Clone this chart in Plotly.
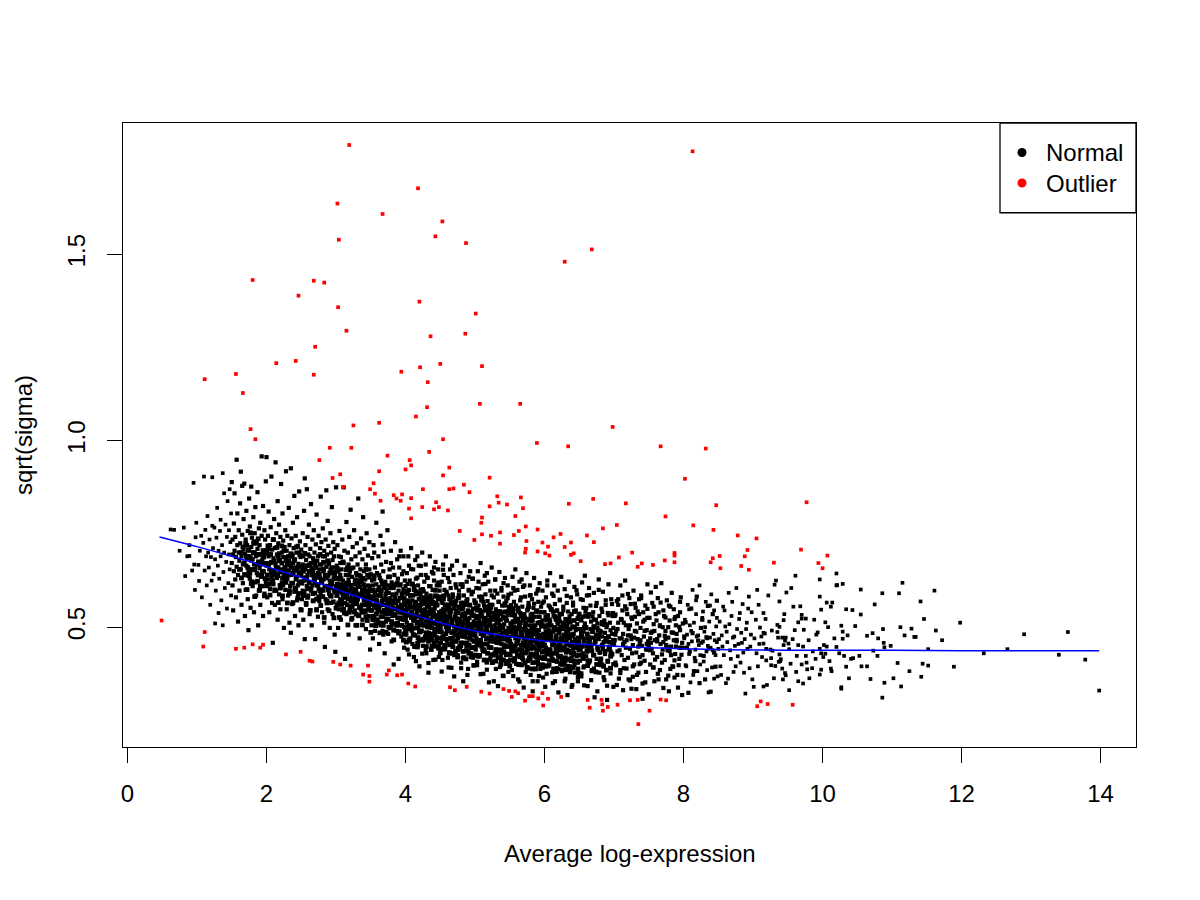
import plotly.graph_objects as go

# ---------------- data ----------------
# Trend (blue) line
trend_x = [0.46, 1.0, 1.5, 2.0, 2.5, 3.0, 3.5, 4.0, 4.5, 5.0, 5.5, 6.0, 6.5, 7.0, 7.5, 8.0, 9.0, 10.0, 11.0, 12.0, 13.0, 13.98]
trend_y = [0.742, 0.716, 0.690, 0.662, 0.633, 0.602, 0.570, 0.540, 0.512, 0.490, 0.475, 0.463, 0.455, 0.449, 0.445, 0.442, 0.439, 0.438, 0.438, 0.437, 0.437, 0.437]

# Outlier genes (red)
outlier_pts = [
 (3.19,1.793),(4.18,1.677),(3.02,1.636),(3.67,1.608),(4.53,1.588),(4.43,1.548),(3.04,1.539),(4.87,1.530),
 (1.80,1.431),(2.68,1.429),(2.83,1.424),(2.46,1.389),(3.03,1.358),(4.20,1.373),(5.01,1.341),(3.15,1.295),
 (4.86,1.287),(4.36,1.280),(2.70,1.252),(2.14,1.208),(2.42,1.214),(1.56,1.179),(1.11,1.165),(2.68,1.177),
 (3.94,1.185),(4.21,1.197),(4.50,1.206),(5.10,1.200),(4.32,1.157),(1.66,1.128),(5.07,1.099),(5.65,1.099),
 (4.31,1.090),(4.15,1.065),(1.77,1.031),(1.84,1.004),(3.25,1.041),(3.62,1.048),(4.54,1.004),(2.91,0.981),
 (3.22,0.981),(4.34,0.970),(8.13,1.776),(6.68,1.513),(6.29,1.480),(6.98,1.037),(5.89,0.994),(6.34,0.985),
 (7.67,0.985),(8.32,0.979),(3.74,0.960),(2.76,0.948),(4.06,0.948),(4.08,0.934),(4.00,0.923),(4.63,0.928),
 (3.62,0.918),(3.06,0.910),(2.95,0.900),(4.54,0.907),(3.54,0.886),(3.10,0.876),(3.49,0.870),(4.25,0.870),
 (4.63,0.870),(4.69,0.872),(3.56,0.858),(3.83,0.854),(3.95,0.856),(3.87,0.845),(3.93,0.839),(4.08,0.846),
 (3.64,0.839),(4.44,0.835),(4.24,0.822),(4.41,0.816),(4.48,0.822),(4.05,0.818),(4.61,0.813),(4.08,0.792),
 (4.78,0.758),(4.84,0.882),
 (0.49,0.518),(1.11,0.487),(1.09,0.448),(1.56,0.442),(1.68,0.445),(1.80,0.454),(1.91,0.445),(1.95,0.453),
 (2.28,0.427),(2.49,0.434),(2.62,0.410),(2.66,0.408),(2.96,0.407),(3.06,0.400),(3.21,0.397),(3.39,0.373),
 (3.48,0.369),(3.48,0.354),(3.46,0.397),(3.73,0.373),(3.76,0.384),(3.88,0.371),(3.95,0.373),(4.04,0.349),
 (4.14,0.341),(4.64,0.339),(4.71,0.331),
 (5.21,0.901),(8.02,0.898),(4.92,0.862),(5.32,0.851),(5.66,0.848),(5.34,0.834),(5.46,0.829),(5.21,0.824),
 (5.69,0.819),(6.35,0.831),(6.70,0.844),(7.17,0.832),(8.47,0.827),(5.10,0.794),(5.58,0.798),(7.74,0.797),
 (5.09,0.780),(7.04,0.774),(8.14,0.773),(5.73,0.770),(5.90,0.762),(6.84,0.765),(8.43,0.761),(5.36,0.754),
 (5.63,0.758),(5.10,0.749),(5.23,0.745),(5.56,0.747),(6.23,0.750),(6.61,0.746),(8.78,0.746),(9.05,0.738),
 (4.99,0.734),(5.74,0.731),(5.97,0.727),(6.13,0.741),(6.38,0.727),(6.71,0.728),(5.36,0.724),(6.05,0.716),
 (6.29,0.715),(5.73,0.710),(8.92,0.707),(5.90,0.703),(5.72,0.700),(6.01,0.698),(6.07,0.692),(6.42,0.698),
 (6.38,0.694),(7.26,0.700),(7.87,0.699),(7.87,0.692),(8.88,0.690),(7.07,0.687),(8.42,0.685),(8.52,0.691),
 (6.52,0.677),(7.73,0.679),(7.87,0.674),(8.39,0.674),(6.87,0.669),(6.95,0.671),(7.40,0.671),(7.56,0.667),
 (7.34,0.662),(8.83,0.664),(8.53,0.658),(8.94,0.654),(9.30,0.673),
 (4.88,0.340),(5.09,0.327),(5.21,0.322),(5.41,0.334),(5.49,0.329),(5.53,0.313),(5.58,0.328),(5.62,0.323),
 (5.72,0.303),(5.78,0.315),(5.83,0.315),(5.91,0.309),(5.97,0.323),(5.98,0.290),(6.05,0.308),(6.24,0.313),
 (6.62,0.305),(6.65,0.284),(6.82,0.305),(6.83,0.293),(6.84,0.276),(6.91,0.286),(7.05,0.292),(7.23,0.304),
 (7.34,0.305),(7.35,0.240),(7.51,0.276),(7.67,0.306),(7.75,0.304),(9.06,0.288),(9.11,0.301),(9.21,0.294),
 (9.77,0.835),(9.69,0.708),(10.07,0.692),(9.94,0.672),(10.00,0.658),(9.57,0.292),
]

# Normal genes (black), grouped by bands of average log-expression
normal_a = [(0.62,.762),(0.67,.761),(0.75,.705),(0.81,.767),(0.83,.637),(0.86,.690),(0.89,.720),(0.89,.691),
 (0.93,.652),(0.95,.887),(0.97,.600),(0.98,.741),(0.99,.780),(0.96,.668)]

normal_b = [(1.02,.667),(1.03,.624),(1.04,.705),(1.06,.745),(1.07,.580),(1.09,.726),(1.10,.904),(1.11,.652),
 (1.12,.761),(1.13,.690),(1.14,.612),(1.15,.798),(1.16,.700),(1.17,.660),(1.18,.735),(1.19,.560),(1.20,.688),
 (1.21,.625),(1.22,.902),(1.22,.772),(1.23,.712),(1.24,.642),(1.25,.767),(1.26,.510),(1.26,.682),(1.27,.598),
 (1.28,.740),(1.29,.820),(1.30,.665),(1.31,.538),(1.31,.705),(1.32,.630),(1.33,.758),(1.34,.788),(1.34,.690),
 (1.35,.572),(1.36,.720),(1.37,.505),(1.37,.913),(1.38,.648),(1.39,.859),(1.39,.700),(1.40,.605),(1.41,.775),
 (1.42,.675),(1.43,.742),(1.43,.550),(1.44,.838),(1.45,.618),(1.46,.695),(1.46,.760),(1.47,.655),(1.48,.728),
 (1.49,.585),(1.49,.805),(1.47,.870)]

normal_c = [(1.50,.889),(1.50,.672),(1.51,.612),(1.51,.735),(1.52,.695),(1.52,.545),(1.53,.778),(1.53,.650),(1.54,.859),(1.54,.705),
 (1.55,.628),(1.55,.742),(1.56,.688),(1.56,.580),(1.57,.949),(1.57,.662),(1.58,.720),(1.58,.805),(1.59,.640),(1.59,.515),
 (1.60,.700),(1.60,.760),(1.61,.598),(1.61,.678),(1.62,.832),(1.62,.725),(1.63,.917),(1.63,.655),(1.64,.560),(1.64,.690),
 (1.65,.879),(1.65,.748),(1.66,.618),(1.66,.668),(1.67,.710),(1.67,.790),(1.68,.885),(1.68,.642),(1.69,.530),(1.69,.698),
 (1.70,.735),(1.70,.600),(1.71,.665),(1.71,.812),(1.72,.720),(1.72,.685),(1.73,.575),(1.73,.758),(1.74,.492),(1.74,.648),
 (1.75,.705),(1.75,.845),(1.76,.630),(1.76,.770),(1.77,.690),(1.77,.552),(1.78,.877),(1.78,.715),(1.79,.655),(1.79,.740),
 (1.80,.610),(1.80,.682),(1.81,.795),(1.81,.725),(1.82,.540),(1.82,.668),(1.83,.752),(1.83,.700),(1.84,.620),(1.84,.822),
 (1.85,.585),(1.85,.690),(1.86,.730),(1.86,.645),(1.87,.862),(1.87,.710),(1.88,.505),(1.88,.676),(1.89,.765),(1.89,.598),
 (1.90,.658),(1.90,.720),(1.91,.780),(1.91,.560),(1.92,.695),(1.92,.635),(1.93,.958),(1.93,.745),(1.94,.610),(1.94,.682),
 (1.95,.825),(1.95,.530),(1.96,.705),(1.96,.650),(1.97,.760),(1.97,.590),(1.98,.672),(1.98,.735),(1.99,.891),(1.99,.620)]

normal_d = [(2.00,.956),(2.00,.665),(2.01,.700),(2.01,.580),(2.02,.745),(2.02,.628),(2.03,.810),(2.03,.690),(2.04,.540),(2.04,.655),
 (2.05,.720),(2.05,.602),(2.06,.768),(2.06,.672),(2.07,.904),(2.07,.640),(2.08,.708),(2.08,.565),(2.09,.458),(2.09,.735),
 (2.10,.685),(2.10,.615),(2.11,.790),(2.11,.650),(2.12,.560),(2.12,.712),(2.13,.942),(2.13,.668),(2.14,.598),(2.14,.752),
 (2.15,.695),(2.15,.632),(2.16,.838),(2.16,.520),(2.17,.660),(2.17,.725),(2.18,.588),(2.18,.775),(2.19,.680),(2.19,.612),
 (2.20,.742),(2.20,.548),(2.21,.884),(2.21,.655),(2.22,.700),(2.22,.620),(2.23,.805),(2.23,.575),(2.24,.688),(2.24,.732),
 (2.25,.640),(2.25,.498),(2.26,.715),(2.26,.662),(2.27,.760),(2.27,.600),(2.28,.918),(2.28,.678),(2.29,.548),(2.29,.705),
 (2.30,.630),(2.30,.745),(2.31,.585),(2.31,.690),(2.32,.820),(2.32,.652),(2.33,.720),(2.33,.512),(2.34,.610),(2.34,.670),
 (2.35,.926),(2.35,.485),(2.36,.738),(2.36,.640),(2.37,.695),(2.37,.562),(2.38,.780),(2.38,.618),(2.39,.660),(2.39,.712),
 (2.40,.595),(2.40,.852),(2.41,.682),(2.41,.530),(2.42,.745),(2.42,.628),(2.43,.700),(2.43,.655),(2.44,.572),(2.44,.795),
 (2.45,.612),(2.45,.718),(2.46,.670),(2.46,.505),(2.47,.864),(2.47,.645),(2.48,.730),(2.48,.590),(2.49,.688),(2.49,.548),
 (2.02,.672),(2.12,.645),(2.18,.698),(2.27,.628),(2.33,.690),(2.38,.672),(2.44,.650),(2.08,.635),(2.24,.612),(2.47,.700)]

normal_e = [(2.50,.640),(2.50,.708),(2.51,.575),(2.51,.662),(2.52,.752),(2.52,.598),(2.53,.690),(2.53,.520),(2.54,.625),(2.54,.812),
 (2.55,.899),(2.55,.468),(2.56,.655),(2.56,.720),(2.57,.560),(2.57,.680),(2.58,.870),(2.58,.610),(2.59,.742),(2.59,.640),
 (2.60,.585),(2.60,.695),(2.61,.650),(2.61,.775),(2.62,.535),(2.62,.620),(2.63,.710),(2.63,.668),(2.64,.598),(2.64,.830),
 (2.65,.645),(2.65,.505),(2.66,.735),(2.66,.612),(2.67,.685),(2.67,.570),(2.68,.760),(2.68,.630),(2.69,.658),(2.69,.700),
 (2.70,.468),(2.70,.592),(2.71,.722),(2.71,.640),(2.72,.548),(2.72,.802),(2.73,.678),(2.73,.615),(2.74,.690),(2.74,.528),
 (2.75,.745),(2.75,.602),(2.76,.655),(2.76,.570),(2.77,.712),(2.77,.632),(2.78,.850),(2.78,.588),(2.79,.668),(2.79,.728),
 (2.80,.540),(2.80,.620),(2.81,.690),(2.81,.765),(2.82,.598),(2.82,.650),(2.83,.512),(2.83,.705),(2.84,.447),(2.84,.640),
 (2.85,.735),(2.85,.575),(2.86,.867),(2.86,.662),(2.87,.610),(2.87,.695),(2.88,.548),(2.88,.785),(2.89,.638),(2.89,.718),
 (2.90,.590),(2.90,.672),(2.91,.498),(2.91,.625),(2.92,.752),(2.92,.655),(2.93,.565),(2.93,.700),(2.94,.615),(2.94,.822),
 (2.95,.680),(2.95,.535),(2.96,.645),(2.96,.728),(2.97,.598),(2.97,.660),(2.98,.480),(2.98,.710),(2.99,.434),(2.99,.630),
 (2.52,.668),(2.57,.628),(2.62,.690),(2.67,.650),(2.72,.612),(2.77,.668),(2.82,.628),(2.87,.640),(2.92,.605),(2.97,.690),
 (2.54,.585),(2.64,.672),(2.74,.645),(2.84,.690),(2.94,.660),(2.59,.605),(2.69,.620),(2.79,.600),(2.89,.668),(2.99,.648)]

normal_f = [(3.00,.875),(3.00,.610),(3.01,.560),(3.01,.665),(3.02,.720),(3.02,.585),(3.03,.632),(3.03,.498),(3.04,.690),(3.04,.548),
 (3.05,.605),(3.05,.758),(3.06,.640),(3.06,.575),(3.07,.520),(3.07,.688),(3.08,.612),(3.08,.655),(3.09,.735),(3.09,.590),
 (3.10,.548),(3.10,.625),(3.11,.875),(3.11,.672),(3.12,.600),(3.12,.705),(3.13,.415),(3.13,.565),(3.14,.640),(3.14,.592),
 (3.15,.782),(3.15,.535),(3.16,.660),(3.16,.615),(3.17,.575),(3.17,.700),(3.18,.480),(3.18,.628),(3.19,.742),(3.19,.598),
 (3.20,.650),(3.20,.555),(3.21,.610),(3.21,.815),(3.22,.682),(3.22,.520),(3.23,.635),(3.23,.588),(3.24,.715),(3.24,.560),
 (3.25,.602),(3.25,.660),(3.26,.540),(3.26,.760),(3.27,.622),(3.27,.578),(3.28,.690),(3.28,.505),(3.29,.645),(3.29,.598),
 (3.30,.725),(3.30,.565),(3.31,.612),(3.31,.668),(3.32,.530),(3.32,.845),(3.33,.640),(3.33,.585),(3.34,.700),(3.34,.470),
 (3.35,.608),(3.35,.655),(3.36,.550),(3.36,.738),(3.37,.620),(3.37,.590),(3.38,.682),(3.38,.520),(3.39,.632),(3.39,.795),
 (3.40,.572),(3.40,.650),(3.41,.605),(3.41,.710),(3.42,.545),(3.42,.628),(3.43,.668),(3.43,.495),(3.44,.598),(3.44,.752),
 (3.45,.640),(3.45,.560),(3.46,.612),(3.46,.692),(3.47,.530),(3.47,.585),(3.48,.655),(3.48,.728),(3.49,.600),(3.49,.440),
 (3.01,.600),(3.04,.628),(3.07,.595),(3.10,.580),(3.13,.612),(3.16,.588),(3.19,.640),(3.22,.602),(3.25,.575),(3.28,.615),
 (3.31,.590),(3.34,.625),(3.37,.560),(3.40,.615),(3.43,.580),(3.46,.640),(3.49,.570),(3.03,.560),(3.09,.545),(3.15,.605),
 (3.21,.570),(3.27,.545),(3.33,.555),(3.39,.595),(3.45,.598),(3.06,.672),(3.18,.668),(3.30,.640),(3.42,.595),(3.48,.610)]

normal_g = [(3.50,.560),(3.50,.642),(3.51,.505),(3.51,.598),(3.52,.685),(3.52,.545),(3.53,.612),(3.53,.470),(3.54,.575),(3.54,.720),
 (3.55,.628),(3.55,.530),(3.56,.660),(3.56,.590),(3.57,.508),(3.57,.552),(3.58,.780),(3.58,.615),(3.59,.570),(3.59,.645),
 (3.60,.520),(3.60,.600),(3.61,.690),(3.61,.548),(3.62,.585),(3.62,.455),(3.63,.632),(3.63,.560),(3.64,.745),(3.64,.505),
 (3.65,.598),(3.65,.668),(3.66,.540),(3.66,.615),(3.67,.575),(3.67,.490),(3.68,.650),(3.68,.528),(3.69,.605),(3.69,.702),
 (3.70,.560),(3.70,.430),(3.71,.622),(3.71,.585),(3.72,.515),(3.72,.675),(3.73,.548),(3.73,.600),(3.74,.760),(3.74,.568),
 (3.75,.635),(3.75,.482),(3.76,.592),(3.76,.535),(3.77,.655),(3.77,.612),(3.78,.500),(3.78,.578),(3.79,.705),(3.79,.545),
 (3.80,.620),(3.80,.462),(3.81,.588),(3.81,.530),(3.82,.660),(3.82,.565),(3.83,.400),(3.83,.605),(3.84,.510),(3.84,.640),
 (3.85,.575),(3.85,.728),(3.86,.548),(3.86,.612),(3.87,.490),(3.87,.590),(3.88,.682),(3.88,.525),(3.89,.555),(3.89,.630),
 (3.90,.415),(3.90,.598),(3.91,.540),(3.91,.660),(3.92,.578),(3.92,.505),(3.93,.615),(3.93,.705),(3.94,.560),(3.94,.475),
 (3.95,.642),(3.95,.588),(3.96,.520),(3.96,.545),(3.97,.690),(3.97,.602),(3.98,.568),(3.98,.445),(3.99,.625),(3.99,.532),
 (3.51,.575),(3.54,.600),(3.57,.585),(3.60,.560),(3.63,.598),(3.66,.570),(3.69,.545),(3.72,.590),(3.75,.560),(3.78,.605),
 (3.81,.560),(3.84,.585),(3.87,.550),(3.90,.570),(3.93,.540),(3.96,.592),(3.99,.560),(3.53,.530),(3.59,.520),(3.65,.625),
 (3.71,.535),(3.77,.565),(3.83,.535),(3.89,.512),(3.95,.552),(3.52,.625),(3.62,.640),(3.72,.612),(3.82,.610),(3.92,.612),
 (3.56,.490),(3.68,.480),(3.80,.505),(3.92,.540),(3.98,.500),(3.55,.700),(3.67,.722),(3.79,.672),(3.91,.690),(3.97,.650),
 (3.67,.810)]

normal_h = [(4.00,.530),(4.00,.610),(4.01,.480),(4.01,.565),(4.02,.645),(4.02,.512),(4.03,.590),(4.03,.440),(4.04,.548),(4.04,.690),
 (4.05,.600),(4.05,.505),(4.06,.625),(4.06,.560),(4.07,.470),(4.07,.535),(4.08,.712),(4.08,.585),(4.09,.542),(4.09,.615),
 (4.10,.495),(4.10,.572),(4.11,.655),(4.11,.520),(4.12,.555),(4.12,.420),(4.13,.600),(4.13,.532),(4.14,.680),(4.14,.478),
 (4.15,.568),(4.15,.630),(4.16,.510),(4.16,.588),(4.17,.545),(4.17,.458),(4.18,.612),(4.18,.498),(4.19,.575),(4.19,.665),
 (4.20,.528),(4.20,.395),(4.21,.592),(4.21,.552),(4.22,.488),(4.22,.640),(4.23,.518),(4.23,.570),(4.24,.700),(4.24,.540),
 (4.25,.602),(4.25,.450),(4.26,.562),(4.26,.505),(4.27,.622),(4.27,.580),(4.28,.475),(4.28,.548),(4.29,.668),(4.29,.515),
 (4.30,.590),(4.30,.430),(4.31,.555),(4.31,.500),(4.32,.632),(4.32,.535),(4.33,.378),(4.33,.575),(4.34,.485),(4.34,.610),
 (4.35,.545),(4.35,.690),(4.36,.520),(4.36,.585),(4.37,.465),(4.37,.562),(4.38,.648),(4.38,.498),(4.39,.528),(4.39,.600),
 (4.40,.412),(4.40,.568),(4.41,.510),(4.41,.625),(4.42,.550),(4.42,.478),(4.43,.585),(4.43,.675),(4.44,.532),(4.44,.448),
 (4.45,.612),(4.45,.558),(4.46,.492),(4.46,.518),(4.47,.655),(4.47,.575),(4.48,.540),(4.48,.420),(4.49,.598),(4.49,.505),
 (4.01,.545),(4.04,.572),(4.07,.555),(4.10,.530),(4.13,.565),(4.16,.540),(4.19,.515),(4.22,.560),(4.25,.530),(4.28,.575),
 (4.31,.530),(4.34,.555),(4.37,.520),(4.40,.540),(4.43,.510),(4.46,.560),(4.49,.530),(4.03,.500),(4.09,.490),(4.15,.595),
 (4.21,.505),(4.27,.535),(4.33,.505),(4.39,.482),(4.45,.522),(4.02,.595),(4.12,.610),(4.22,.582),(4.32,.580),(4.42,.582),
 (4.06,.462),(4.18,.452),(4.30,.475),(4.42,.510),(4.48,.470),(4.05,.665),(4.17,.690),(4.29,.640),(4.41,.660),(4.47,.620),
 (4.08,.525),(4.14,.550),(4.20,.575),(4.26,.545),(4.32,.560),(4.38,.548),(4.44,.565),(4.11,.585),(4.23,.595),(4.35,.510)]

normal_i = [(4.50,.505),(4.50,.582),(4.51,.458),(4.51,.540),(4.52,.622),(4.52,.488),(4.53,.565),(4.53,.412),(4.54,.522),(4.54,.668),
 (4.55,.575),(4.55,.478),(4.56,.600),(4.56,.535),(4.57,.442),(4.57,.510),(4.58,.690),(4.58,.558),(4.59,.518),(4.59,.590),
 (4.60,.468),(4.60,.548),(4.61,.632),(4.61,.495),(4.62,.528),(4.62,.392),(4.63,.575),(4.63,.505),(4.64,.655),(4.64,.452),
 (4.65,.542),(4.65,.605),(4.66,.485),(4.66,.562),(4.67,.520),(4.67,.430),(4.68,.588),(4.68,.472),(4.69,.550),(4.69,.640),
 (4.70,.502),(4.70,.368),(4.71,.568),(4.71,.528),(4.72,.462),(4.72,.615),(4.73,.492),(4.73,.545),(4.74,.678),(4.74,.515),
 (4.75,.578),(4.75,.425),(4.76,.538),(4.76,.480),(4.77,.598),(4.77,.555),(4.78,.448),(4.78,.522),(4.79,.645),(4.79,.490),
 (4.80,.565),(4.80,.405),(4.81,.530),(4.81,.475),(4.82,.608),(4.82,.510),(4.83,.355),(4.83,.550),(4.84,.458),(4.84,.585),
 (4.85,.520),(4.85,.665),(4.86,.495),(4.86,.560),(4.87,.438),(4.87,.538),(4.88,.622),(4.88,.472),(4.89,.502),(4.89,.575),
 (4.90,.388),(4.90,.545),(4.91,.485),(4.91,.600),(4.92,.525),(4.92,.452),(4.93,.560),(4.93,.650),(4.94,.508),(4.94,.420),
 (4.95,.588),(4.95,.535),(4.96,.465),(4.96,.492),(4.97,.630),(4.97,.550),(4.98,.515),(4.98,.398),(4.99,.572),(4.99,.480),
 (4.51,.520),(4.54,.548),(4.57,.530),(4.60,.505),(4.63,.540),(4.66,.515),(4.69,.490),(4.72,.535),(4.75,.505),(4.78,.550),
 (4.81,.505),(4.84,.530),(4.87,.495),(4.90,.515),(4.93,.485),(4.96,.535),(4.99,.505),(4.53,.475),(4.59,.465),(4.65,.570),
 (4.71,.480),(4.77,.510),(4.83,.480),(4.89,.458),(4.95,.498),(4.52,.570),(4.62,.585),(4.72,.558),(4.82,.555),(4.92,.558),
 (4.56,.440),(4.68,.430),(4.80,.450),(4.92,.485),(4.98,.445),(4.55,.640),(4.67,.665),(4.79,.615),(4.91,.635),(4.97,.595),
 (4.58,.500),(4.64,.525),(4.70,.550),(4.76,.520),(4.82,.535),(4.88,.522),(4.94,.540),(4.61,.560),(4.73,.570),(4.85,.485)]

normal_j = [(5.00,.490),(5.00,.565),(5.01,.440),(5.01,.525),(5.02,.605),(5.02,.470),(5.03,.548),(5.03,.398),(5.04,.505),(5.04,.650),
 (5.05,.558),(5.05,.460),(5.06,.582),(5.06,.518),(5.07,.425),(5.07,.495),(5.08,.672),(5.08,.540),(5.09,.500),(5.09,.572),
 (5.10,.452),(5.10,.530),(5.11,.615),(5.11,.478),(5.12,.512),(5.12,.375),(5.13,.558),(5.13,.488),(5.14,.638),(5.14,.435),
 (5.15,.525),(5.15,.588),(5.16,.468),(5.16,.545),(5.17,.502),(5.17,.412),(5.18,.570),(5.18,.455),(5.19,.532),(5.19,.622),
 (5.20,.485),(5.20,.352),(5.21,.550),(5.21,.510),(5.22,.445),(5.22,.598),(5.23,.475),(5.23,.528),(5.24,.660),(5.24,.498),
 (5.25,.560),(5.25,.408),(5.26,.520),(5.26,.462),(5.27,.580),(5.27,.538),(5.28,.430),(5.28,.505),(5.29,.628),(5.29,.472),
 (5.30,.548),(5.30,.388),(5.31,.512),(5.31,.458),(5.32,.590),(5.32,.492),(5.33,.342),(5.33,.532),(5.34,.440),(5.34,.568),
 (5.35,.502),(5.35,.648),(5.36,.478),(5.36,.542),(5.37,.420),(5.37,.520),(5.38,.605),(5.38,.455),(5.39,.485),(5.39,.558),
 (5.40,.370),(5.40,.528),(5.41,.468),(5.41,.582),(5.42,.508),(5.42,.435),(5.43,.542),(5.43,.632),(5.44,.490),(5.44,.402),
 (5.45,.570),(5.45,.518),(5.46,.448),(5.46,.475),(5.47,.612),(5.47,.532),(5.48,.498),(5.48,.380),(5.49,.555),(5.49,.462),
 (5.01,.502),(5.04,.530),(5.07,.512),(5.10,.488),(5.13,.522),(5.16,.498),(5.19,.472),(5.22,.518),(5.25,.488),(5.28,.532),
 (5.31,.488),(5.34,.512),(5.37,.478),(5.40,.498),(5.43,.468),(5.46,.518),(5.49,.488),(5.03,.458),(5.09,.448),(5.15,.552),
 (5.21,.462),(5.27,.492),(5.33,.462),(5.39,.440),(5.45,.480),(5.02,.552),(5.12,.568),(5.22,.540),(5.32,.538),(5.42,.540),
 (5.06,.422),(5.18,.412),(5.30,.432),(5.42,.468),(5.48,.428),(5.05,.622),(5.17,.645),(5.29,.598),(5.41,.618),(5.47,.578),
 (5.08,.482),(5.14,.508),(5.20,.532),(5.26,.502),(5.32,.518),(5.38,.505),(5.44,.522),(5.11,.542),(5.23,.552),(5.35,.468)]

normal_k = [(5.50,.475),(5.50,.550),(5.51,.425),(5.51,.510),(5.52,.590),(5.52,.455),(5.53,.532),(5.53,.385),(5.54,.490),(5.54,.635),
 (5.55,.542),(5.55,.445),(5.56,.568),(5.56,.502),(5.57,.410),(5.57,.480),(5.58,.655),(5.58,.525),(5.59,.485),(5.59,.558),
 (5.60,.438),(5.60,.515),(5.61,.600),(5.61,.462),(5.62,.498),(5.62,.360),(5.63,.542),(5.63,.472),(5.64,.622),(5.64,.420),
 (5.65,.510),(5.65,.572),(5.66,.452),(5.66,.530),(5.67,.488),(5.67,.398),(5.68,.555),(5.68,.440),(5.69,.518),(5.69,.608),
 (5.70,.470),(5.70,.338),(5.71,.535),(5.71,.495),(5.72,.430),(5.72,.582),(5.73,.460),(5.73,.512),(5.74,.645),(5.74,.482),
 (5.75,.545),(5.75,.392),(5.76,.505),(5.76,.448),(5.77,.565),(5.77,.522),(5.78,.415),(5.78,.490),(5.79,.612),(5.79,.458),
 (5.80,.532),(5.80,.372),(5.81,.498),(5.81,.442),(5.82,.575),(5.82,.478),(5.83,.328),(5.83,.518),(5.84,.425),(5.84,.552),
 (5.85,.488),(5.85,.632),(5.86,.462),(5.86,.528),(5.87,.405),(5.87,.505),(5.88,.590),(5.88,.440),(5.89,.470),(5.89,.545),
 (5.90,.355),(5.90,.512),(5.91,.452),(5.91,.568),(5.92,.492),(5.92,.420),(5.93,.528),(5.93,.618),(5.94,.475),(5.94,.388),
 (5.95,.555),(5.95,.502),(5.96,.432),(5.96,.460),(5.97,.598),(5.97,.518),(5.98,.482),(5.98,.365),(5.99,.540),(5.99,.448),
 (5.51,.488),(5.54,.515),(5.57,.498),(5.60,.475),(5.63,.508),(5.66,.485),(5.69,.458),(5.72,.505),(5.75,.475),(5.78,.518),
 (5.81,.475),(5.84,.498),(5.87,.465),(5.90,.485),(5.93,.455),(5.96,.505),(5.99,.475),(5.53,.445),(5.59,.435),(5.65,.538),
 (5.71,.448),(5.77,.478),(5.83,.450),(5.89,.428),(5.95,.468),(5.52,.538),(5.62,.552),(5.72,.525),(5.82,.525),(5.92,.528),
 (5.56,.408),(5.68,.400),(5.80,.418),(5.92,.455),(5.98,.415),(5.55,.605),(5.67,.628),(5.79,.585),(5.91,.602),(5.97,.565),
 (5.58,.470),(5.64,.495),(5.70,.518),(5.76,.488),(5.82,.505),(5.88,.492),(5.94,.510)]

normal_l = [(6.00,.465),(6.00,.540),(6.01,.415),(6.01,.500),(6.02,.580),(6.02,.445),(6.03,.522),(6.03,.375),(6.04,.480),(6.04,.625),
 (6.05,.532),(6.05,.435),(6.06,.558),(6.06,.492),(6.07,.400),(6.07,.470),(6.08,.645),(6.08,.515),(6.09,.475),(6.09,.548),
 (6.10,.428),(6.10,.505),(6.11,.590),(6.11,.452),(6.12,.488),(6.12,.350),(6.13,.532),(6.13,.462),(6.14,.612),(6.14,.410),
 (6.15,.500),(6.15,.562),(6.16,.442),(6.16,.520),(6.17,.478),(6.17,.388),(6.18,.545),(6.18,.430),(6.19,.508),(6.19,.598),
 (6.20,.460),(6.20,.325),(6.21,.525),(6.21,.485),(6.22,.420),(6.22,.572),(6.23,.450),(6.23,.502),(6.24,.635),(6.24,.472),
 (6.25,.535),(6.25,.382),(6.26,.495),(6.26,.438),(6.27,.555),(6.27,.512),(6.28,.405),(6.28,.480),(6.29,.602),(6.29,.448),
 (6.30,.522),(6.30,.362),(6.31,.488),(6.31,.432),(6.32,.565),(6.32,.468),(6.33,.318),(6.33,.508),(6.34,.415),(6.34,.542),
 (6.35,.478),(6.35,.622),(6.36,.452),(6.36,.518),(6.37,.395),(6.37,.495),(6.38,.580),(6.38,.430),(6.39,.460),(6.39,.535),
 (6.40,.345),(6.40,.502),(6.41,.442),(6.41,.558),(6.42,.482),(6.42,.410),(6.43,.518),(6.43,.608),(6.44,.465),(6.44,.378),
 (6.45,.545),(6.45,.492),(6.46,.422),(6.46,.450),(6.47,.588),(6.47,.508),(6.48,.472),(6.48,.355),(6.49,.530),(6.49,.438),
 (6.01,.478),(6.04,.505),(6.07,.488),(6.10,.465),(6.13,.498),(6.16,.475),(6.19,.448),(6.22,.495),(6.25,.465),(6.28,.508),
 (6.31,.465),(6.34,.488),(6.37,.455),(6.40,.475),(6.43,.445),(6.46,.495),(6.49,.465),(6.03,.435),(6.09,.425),(6.15,.528),
 (6.21,.438),(6.27,.468),(6.33,.440),(6.39,.418),(6.45,.458),(6.02,.528),(6.12,.542),(6.22,.515),(6.32,.515),(6.42,.518),
 (6.06,.398),(6.18,.390),(6.30,.408),(6.42,.445),(6.48,.405)]

normal_m = [(6.50,.460),(6.50,.535),(6.51,.410),(6.51,.495),(6.52,.575),(6.52,.440),(6.53,.518),(6.53,.368),(6.54,.475),(6.54,.620),
 (6.55,.528),(6.55,.430),(6.56,.552),(6.56,.488),(6.57,.395),(6.57,.465),(6.58,.638),(6.58,.510),(6.59,.470),(6.59,.542),
 (6.60,.422),(6.60,.500),(6.61,.585),(6.61,.448),(6.62,.482),(6.62,.342),(6.63,.528),(6.63,.458),(6.64,.605),(6.64,.405),
 (6.66,.495),(6.66,.558),(6.67,.438),(6.67,.515),(6.68,.472),(6.68,.382),(6.70,.540),(6.70,.425),(6.71,.502),(6.71,.592),
 (6.72,.455),(6.72,.312),(6.74,.520),(6.74,.480),(6.75,.415),(6.75,.565),(6.76,.445),(6.76,.498),(6.78,.628),(6.78,.468),
 (6.79,.530),(6.79,.378),(6.80,.490),(6.80,.432),(6.82,.550),(6.82,.508),(6.83,.400),(6.83,.475),(6.84,.595),(6.84,.442),
 (6.86,.518),(6.86,.358),(6.87,.485),(6.87,.428),(6.88,.560),(6.88,.462),(6.90,.305),(6.90,.505),(6.91,.410),(6.91,.538),
 (6.92,.475),(6.92,.615),(6.94,.448),(6.94,.512),(6.95,.390),(6.95,.492),(6.96,.575),(6.96,.425),(6.98,.455),(6.98,.530),
 (6.99,.340),(6.99,.498),(6.53,.472),(6.57,.500),(6.61,.482),(6.65,.460),(6.69,.492),(6.73,.470),(6.77,.442),(6.81,.488),
 (6.85,.460),(6.89,.500),(6.93,.460),(6.97,.482),(6.55,.448),(6.63,.440),(6.71,.520),(6.79,.432),(6.87,.462),(6.95,.435),
 (6.52,.520),(6.64,.535),(6.76,.510),(6.88,.508),(6.56,.392),(6.68,.385),(6.80,.402),(6.92,.440)]

normal_n = [(7.00,.455),(7.01,.530),(7.02,.405),(7.03,.490),(7.04,.570),(7.05,.435),(7.06,.512),(7.07,.362),(7.08,.470),(7.09,.612),
 (7.10,.522),(7.11,.425),(7.12,.545),(7.13,.482),(7.14,.390),(7.15,.460),(7.16,.625),(7.17,.505),(7.18,.465),(7.19,.535),
 (7.20,.418),(7.21,.495),(7.22,.578),(7.23,.442),(7.24,.478),(7.25,.335),(7.26,.522),(7.27,.452),(7.28,.598),(7.29,.400),
 (7.30,.490),(7.31,.552),(7.32,.432),(7.33,.510),(7.34,.468),(7.35,.378),(7.36,.535),(7.37,.420),(7.38,.498),(7.39,.585),
 (7.40,.450),(7.41,.308),(7.42,.515),(7.43,.475),(7.44,.410),(7.45,.558),(7.46,.440),(7.47,.492),(7.48,.615),(7.49,.462),
 (7.02,.480),(7.05,.495),(7.08,.438),(7.11,.470),(7.14,.512),(7.17,.445),(7.20,.478),(7.23,.505),(7.26,.430),(7.29,.472),
 (7.32,.488),(7.35,.448),(7.38,.465),(7.41,.425),(7.44,.490),(7.47,.455),(7.03,.398),(7.09,.385),(7.15,.412),(7.21,.360),
 (7.27,.395),(7.33,.372),(7.39,.405),(7.45,.352),(7.06,.560),(7.12,.585),(7.18,.548),(7.24,.562),(7.30,.528),(7.36,.575),
 (7.42,.540),(7.48,.525),(7.01,.465),(7.13,.455),(7.25,.468),(7.37,.458),(7.49,.440)]

normal_o = [(7.50,.450),(7.51,.525),(7.52,.400),(7.53,.485),(7.55,.565),(7.56,.430),(7.57,.508),(7.58,.355),(7.59,.465),(7.60,.608),
 (7.61,.518),(7.62,.420),(7.64,.540),(7.65,.478),(7.66,.385),(7.67,.455),(7.68,.618),(7.70,.500),(7.71,.460),(7.72,.530),
 (7.73,.412),(7.74,.490),(7.76,.572),(7.77,.438),(7.78,.472),(7.79,.328),(7.80,.518),(7.82,.448),(7.83,.592),(7.84,.395),
 (7.85,.485),(7.86,.548),(7.88,.428),(7.89,.505),(7.90,.462),(7.91,.372),(7.92,.530),(7.94,.415),(7.95,.492),(7.96,.580),
 (7.97,.445),(7.98,.318),(7.99,.510),(7.52,.470),(7.54,.442),(7.58,.490),(7.62,.462),(7.66,.505),(7.70,.440),(7.74,.468),
 (7.78,.500),(7.82,.425),(7.86,.465),(7.90,.482),(7.94,.445),(7.98,.458),(7.56,.392),(7.63,.375),(7.69,.405),(7.75,.360),
 (7.81,.388),(7.87,.365),(7.93,.398),(7.57,.555),(7.63,.578),(7.71,.545),(7.79,.558),(7.87,.522),(7.95,.540),(7.53,.458),
 (7.75,.452),(7.89,.448)]

normal_p = [(8.00,.445),(8.02,.520),(8.03,.398),(8.05,.480),(8.06,.560),(8.08,.428),(8.09,.505),(8.10,.352),(8.12,.462),(8.13,.600),
 (8.15,.512),(8.16,.418),(8.18,.535),(8.19,.475),(8.20,.382),(8.22,.452),(8.23,.612),(8.25,.498),(8.26,.458),(8.27,.525),
 (8.29,.408),(8.30,.488),(8.32,.568),(8.33,.435),(8.34,.470),(8.36,.325),(8.37,.515),(8.39,.445),(8.40,.588),(8.41,.392),
 (8.43,.482),(8.44,.545),(8.46,.425),(8.47,.502),(8.48,.460),(8.49,.368),(8.01,.470),(8.07,.455),(8.11,.490),(8.17,.440),
 (8.21,.478),(8.24,.425),(8.28,.462),(8.31,.500),(8.35,.450),(8.38,.472),(8.42,.438),(8.45,.465),(8.04,.395),(8.14,.372),
 (8.24,.400),(8.34,.385),(8.44,.362),(8.08,.548),(8.18,.572),(8.28,.542),(8.38,.558),(8.48,.525)]

normal_q = [(8.50,.442),(8.52,.515),(8.53,.395),(8.55,.478),(8.57,.555),(8.58,.425),(8.60,.502),(8.61,.350),(8.63,.460),(8.65,.592),
 (8.66,.508),(8.68,.415),(8.69,.530),(8.71,.472),(8.72,.380),(8.74,.450),(8.76,.605),(8.77,.495),(8.79,.455),(8.80,.522),
 (8.82,.405),(8.83,.485),(8.85,.562),(8.86,.432),(8.88,.468),(8.89,.322),(8.91,.512),(8.92,.442),(8.94,.582),(8.95,.390),
 (8.97,.480),(8.98,.540),(8.51,.468),(8.56,.448),(8.62,.488),(8.67,.438),(8.73,.475),(8.78,.422),(8.84,.458),(8.90,.495),
 (8.96,.448),(8.54,.372),(8.64,.362),(8.75,.395),(8.87,.378),(8.99,.360),(8.59,.545),(8.70,.568),(8.81,.538),(8.93,.550)]

normal_r = [(9.10,.499),(9.15,.456),(9.15,.485),(9.17,.483),(9.15,.538),(9.18,.522),(9.19,.411),(9.19,.442),(9.20,.345),(9.15,.341),
 (9.22,.585),(9.25,.440),(9.26,.398),(9.26,.417),(9.27,.491),(9.28,.437),(9.30,.363),(9.31,.614),(9.32,.396),(9.33,.625),
 (9.35,.506),(9.35,.487),(9.36,.472),(9.37,.407),(9.38,.501),(9.38,.569),(9.38,.427),(9.39,.409),(9.40,.414),(9.42,.389),
 (9.42,.472),(9.43,.360),(9.44,.519),(9.44,.452),(9.45,.535),(9.46,.377),(9.46,.464),(9.47,.472),(9.47,.371),(9.48,.593),
 (9.02,.470),(9.04,.520),(9.05,.430),(9.07,.395),(9.08,.560),(9.09,.455),(9.01,.340),(9.12,.475),(9.06,.600),(9.13,.420)]

normal_s = [(9.51,.456),(9.52,.331),(9.52,.441),(9.54,.402),(9.57,.468),(9.58,.555),(9.61,.638),(9.63,.423),(9.65,.452),(9.65,.355),
 (9.65,.513),(9.68,.556),(9.70,.400),(9.70,.523),(9.70,.533),(9.72,.349),(9.72,.448),(9.73,.493),(9.76,.523),(9.76,.423),
 (9.77,.405),(9.78,.387),(9.81,.363),(9.85,.390),(9.86,.435),(9.91,.480),(9.93,.486),(9.96,.582),(9.96,.628),(9.96,.442),
 (9.96,.373),(9.98,.547),(9.98,.430),(9.98,.386),(9.55,.605),(9.60,.492),(9.80,.465),(9.88,.520),(9.62,.380),(9.90,.415)]

normal_t = [(10.01,.420),(10.02,.452),(10.04,.513),(10.04,.429),(10.06,.566),(10.06,.448),(10.08,.500),(10.10,.409),(10.12,.555),(10.12,.389),
 (10.13,.382),(10.14,.566),(10.20,.644),(10.20,.612),(10.20,.447),(10.21,.613),(10.27,.504),(10.27,.339),(10.27,.335),(10.29,.488),
 (10.29,.616),(10.29,.469),(10.31,.423),(10.34,.548),(10.34,.394),(10.36,.478),(10.38,.363),(10.41,.415),(10.43,.546),(10.44,.417),
 (10.47,.503),(10.17,.470),(10.24,.430)]

normal_u = [(10.53,.423),(10.55,.601),(10.55,.534),(10.56,.395),(10.64,.477),(10.64,.395),(10.69,.361),(10.72,.484),(10.73,.437),(10.75,.561),
 (10.79,.423),(10.80,.470),(10.86,.591),(10.86,.311),(10.87,.495),(10.88,.458),(10.89,.446),(10.89,.351),(10.98,.450),(11.02,.363),
 (11.08,.404),(11.10,.591),(11.12,.500),(11.13,.341),(11.15,.619),(11.18,.478),(11.25,.382),(11.28,.496),(11.32,.474),(11.34,.474),
 (11.41,.569),(11.42,.367),(11.44,.402),(11.46,.522),(11.52,.441),(11.52,.397),(11.61,.598),(11.63,.491),(11.72,.465),(11.89,.394),
 (11.98,.512),(12.32,.430),(12.66,.441),(12.90,.481),(13.40,.426),(13.53,.487),(13.78,.413),(13.98,.330)]

# points in the solid core of the cloud
normal_core = [
 (1.61,.655),(1.63,.700),(1.64,.632),(1.66,.715),(1.68,.672),(1.69,.640),(1.71,.690),(1.73,.660),(1.74,.708),(1.76,.645),
 (1.78,.680),(1.79,.622),(1.81,.700),(1.83,.655),(1.84,.725),(1.86,.668),(1.88,.640),(1.89,.695),(1.91,.610),(1.93,.675),
 (1.94,.650),(1.96,.688),(1.98,.630),(1.99,.705),
 (2.01,.640),(2.03,.668),(2.04,.615),(2.06,.695),(2.07,.650),(2.09,.625),(2.11,.678),(2.12,.600),(2.14,.660),(2.16,.638),
 (2.17,.690),(2.19,.648),(2.20,.612),(2.22,.672),(2.23,.632),(2.25,.705),(2.27,.655),(2.28,.620),(2.30,.668),(2.31,.640),
 (2.33,.598),(2.35,.660),(2.36,.618),(2.38,.645),(2.40,.678),(2.41,.605),(2.43,.635),(2.45,.662),(2.46,.590),(2.48,.648),(2.49,.622),
 (2.51,.618),(2.53,.650),(2.54,.595),(2.56,.632),(2.58,.665),(2.59,.580),(2.61,.620),(2.62,.648),(2.64,.605),(2.66,.640),
 (2.67,.590),(2.69,.628),(2.71,.660),(2.72,.575),(2.74,.612),(2.76,.642),(2.77,.598),(2.79,.625),(2.81,.582),(2.82,.655),
 (2.84,.610),(2.86,.632),(2.87,.570),(2.89,.600),(2.91,.645),(2.92,.585),(2.94,.618),(2.96,.568),(2.97,.630),(2.99,.595),
 (3.01,.585),(3.02,.615),(3.04,.565),(3.05,.598),(3.07,.630),(3.08,.572),(3.10,.605),(3.11,.548),(3.13,.588),(3.14,.618),
 (3.16,.560),(3.17,.595),(3.19,.540),(3.20,.578),(3.22,.612),(3.23,.555),(3.25,.590),(3.26,.570),(3.28,.600),(3.29,.535),
 (3.31,.575),(3.32,.610),(3.34,.552),(3.35,.585),(3.37,.540),(3.38,.598),(3.40,.560),(3.41,.582),(3.43,.528),(3.44,.570),
 (3.46,.595),(3.47,.548),(3.49,.582),
 (3.50,.545),(3.52,.580),(3.53,.520),(3.55,.558),(3.56,.592),(3.58,.535),(3.59,.565),(3.61,.512),(3.62,.550),(3.64,.585),
 (3.65,.528),(3.67,.560),(3.68,.505),(3.70,.545),(3.71,.575),(3.73,.522),(3.74,.555),(3.76,.500),(3.77,.540),(3.79,.570),
 (3.80,.515),(3.82,.550),(3.83,.492),(3.85,.532),(3.86,.565),(3.88,.510),(3.89,.545),(3.91,.488),(3.92,.525),(3.94,.558),
 (3.95,.505),(3.97,.538),(3.98,.482),
 (4.00,.520),(4.02,.552),(4.03,.495),(4.05,.532),(4.06,.568),(4.08,.505),(4.09,.540),(4.11,.480),(4.12,.518),(4.14,.555),
 (4.15,.498),(4.17,.530),(4.18,.472),(4.20,.512),(4.21,.545),(4.23,.490),(4.24,.525),(4.26,.468),(4.27,.508),(4.29,.540),
 (4.30,.485),(4.32,.518),(4.33,.462),(4.35,.500),(4.36,.535),(4.38,.478),(4.39,.512),(4.41,.458),(4.42,.495),(4.44,.528),
 (4.45,.472),(4.47,.505),(4.48,.450),(4.49,.488),(4.01,.460),(4.07,.585),(4.13,.448),(4.19,.590),(4.25,.465),(4.31,.572),
 (4.37,.440),(4.43,.560),
 (4.50,.498),(4.52,.530),(4.53,.470),(4.55,.510),(4.56,.545),(4.58,.482),(4.59,.518),(4.61,.455),(4.62,.495),(4.64,.535),
 (4.65,.470),(4.67,.508),(4.68,.448),(4.70,.488),(4.71,.522),(4.73,.462),(4.74,.500),(4.76,.440),(4.77,.480),(4.79,.515),
 (4.80,.458),(4.82,.495),(4.83,.435),(4.85,.475),(4.86,.508),(4.88,.450),(4.89,.488),(4.91,.430),(4.92,.470),(4.94,.502),
 (4.95,.445),(4.97,.482),(4.98,.425),(4.99,.462),(4.51,.442),(4.57,.560),(4.63,.430),(4.69,.565),(4.75,.420),(4.81,.548),
 (4.87,.415),(4.93,.540),
 (5.00,.478),(5.02,.512),(5.03,.452),(5.05,.492),(5.06,.528),(5.08,.465),(5.09,.500),(5.11,.440),(5.12,.478),(5.14,.515),
 (5.15,.455),(5.17,.490),(5.18,.430),(5.20,.470),(5.21,.505),(5.23,.445),(5.24,.482),(5.26,.425),(5.27,.462),(5.29,.498),
 (5.30,.440),(5.32,.475),(5.33,.418),(5.35,.458),(5.36,.492),(5.38,.432),(5.39,.470),(5.41,.412),(5.42,.452),(5.44,.488),
 (5.45,.428),(5.47,.465),(5.48,.408),(5.49,.448),(5.01,.425),(5.07,.545),(5.13,.412),(5.19,.540),(5.25,.405),(5.31,.530),
 (5.37,.400),(5.43,.525),
 (5.50,.462),(5.52,.498),(5.53,.438),(5.55,.478),(5.56,.515),(5.58,.450),(5.59,.488),(5.61,.425),(5.62,.465),(5.64,.502),
 (5.65,.440),(5.67,.478),(5.68,.418),(5.70,.458),(5.71,.495),(5.73,.432),(5.74,.470),(5.76,.410),(5.77,.450),(5.79,.488),
 (5.80,.428),(5.82,.465),(5.83,.405),(5.85,.445),(5.86,.482),(5.88,.420),(5.89,.458),(5.91,.400),(5.92,.440),(5.94,.478),
 (5.95,.418),(5.97,.455),(5.98,.398),(5.99,.435),(5.51,.412),(5.57,.532),(5.63,.400),(5.69,.528),(5.75,.392),(5.81,.518),
 (5.87,.388),(5.93,.512),
 (6.00,.452),(6.02,.488),(6.03,.428),(6.05,.468),(6.06,.505),(6.08,.440),(6.09,.478),(6.11,.415),(6.12,.455),(6.14,.492),
 (6.15,.430),(6.17,.468),(6.18,.408),(6.20,.448),(6.21,.485),(6.23,.422),(6.24,.462),(6.26,.400),(6.27,.440),(6.29,.478),
 (6.30,.418),(6.32,.455),(6.33,.395),(6.35,.435),(6.36,.472),(6.38,.410),(6.39,.450),(6.41,.392),(6.42,.430),(6.44,.468),
 (6.45,.408),(6.47,.445),(6.48,.388),(6.49,.425),(6.01,.395),(6.07,.520),(6.13,.388),(6.19,.515),(6.25,.385),(6.31,.505),
 (6.37,.380),(6.43,.500),
 (6.51,.448),(6.53,.482),(6.55,.422),(6.57,.462),(6.59,.498),(6.61,.435),(6.63,.472),(6.65,.410),(6.67,.450),(6.69,.488),
 (6.71,.425),(6.73,.462),(6.75,.400),(6.77,.440),(6.79,.478),(6.81,.415),(6.83,.452),(6.85,.395),(6.87,.435),(6.89,.470),
 (6.91,.408),(6.93,.445),(6.95,.390),(6.97,.428),(6.99,.465)]

# more points scattered through the dense part of the cloud
normal_core2 = [
 (1.70,.724),(1.72,.601),(1.73,.690),(1.75,.638),(1.77,.753),(1.78,.617),(1.80,.654),(1.82,.729),(1.83,.582),(1.85,.695),
 (1.87,.623),(1.88,.737),(1.90,.599),(1.92,.669),(1.93,.640),(1.95,.705),(1.97,.584),(1.98,.697),(2.00,.611),(2.02,.718),
 (2.03,.710),(2.05,.586),(2.07,.674),(2.08,.621),(2.10,.735),(2.12,.598),(2.13,.640),(2.15,.714),(2.17,.566),(2.18,.678),
 (2.20,.605),(2.22,.718),(2.23,.584),(2.25,.653),(2.27,.623),(2.28,.687),(2.30,.565),(2.32,.677),(2.33,.591),(2.35,.697),
 (2.37,.690),(2.38,.566),(2.40,.654),(2.42,.601),(2.43,.715),(2.45,.578),(2.47,.620),(2.48,.694),
 (2.50,.546),(2.52,.658),(2.53,.585),(2.55,.698),(2.57,.564),(2.58,.633),(2.60,.603),(2.62,.667),(2.63,.545),(2.65,.657),
 (2.67,.571),(2.68,.677),(2.70,.670),(2.72,.546),(2.73,.634),(2.75,.581),(2.77,.695),(2.78,.558),(2.80,.600),(2.82,.674),
 (2.83,.526),(2.85,.638),(2.87,.565),(2.88,.678),(2.90,.544),(2.92,.613),(2.93,.583),(2.95,.647),(2.97,.525),(2.98,.637),
 (3.00,.551),(3.02,.657),(3.03,.650),(3.05,.526),(3.07,.614),(3.08,.561),(3.10,.675),(3.12,.538),(3.13,.580),(3.15,.654),
 (3.17,.506),(3.18,.618),(3.20,.545),(3.22,.658),(3.23,.524),(3.25,.593),(3.27,.563),(3.28,.627),(3.30,.505),(3.32,.617),
 (3.33,.531),(3.35,.637),(3.37,.630),(3.38,.506),(3.40,.594),(3.42,.541),(3.43,.655),(3.45,.518),(3.47,.560),(3.48,.634),
 (3.50,.486),(3.52,.598),(3.53,.525),(3.55,.638),(3.57,.504),(3.58,.573),(3.60,.543),(3.62,.607),(3.63,.485),(3.65,.597),
 (3.67,.511),(3.68,.617),(3.70,.610),(3.72,.486),(3.73,.574),(3.75,.521),(3.77,.635),(3.78,.498),(3.80,.540),(3.82,.614),
 (3.83,.466),(3.85,.578),(3.87,.505),(3.88,.618),(3.90,.484),(3.92,.553),(3.93,.523),(3.95,.587),(3.97,.465),(3.98,.577),
 (4.00,.491),(4.02,.597),(4.03,.590),(4.05,.466),(4.07,.554),(4.08,.501),(4.10,.616),(4.12,.479),(4.13,.521),(4.15,.595),
 (4.17,.447),(4.18,.559),(4.20,.487),(4.22,.600),(4.23,.466),(4.25,.535),(4.27,.505),(4.28,.569),(4.30,.448),(4.32,.560),
 (4.33,.474),(4.35,.580),(4.37,.573),(4.38,.449),(4.40,.538),(4.42,.485),(4.43,.599),(4.45,.462),(4.47,.504),(4.48,.578),
 (4.50,.431),(4.52,.543),(4.53,.470),(4.55,.584),(4.57,.450),(4.58,.519),(4.60,.490),(4.62,.554),(4.63,.432),(4.65,.545),
 (4.67,.459),(4.68,.565),(4.70,.559),(4.72,.435),(4.73,.523),(4.75,.471),(4.77,.585),(4.78,.448),(4.80,.491),(4.82,.565),
 (4.83,.417),(4.85,.530),(4.87,.457),(4.88,.570),(4.90,.437),(4.92,.506),(4.93,.476),(4.95,.541),(4.97,.419),(4.98,.531),
 (5.00,.446),(5.02,.552),(5.03,.546),(5.05,.422),(5.07,.511),(5.08,.458),(5.10,.573),(5.12,.436),(5.13,.479),(5.15,.553),
 (5.17,.406),(5.18,.518),(5.20,.446),(5.22,.559),(5.23,.426),(5.25,.495),(5.27,.466),(5.28,.530),(5.30,.409),(5.32,.521),
 (5.33,.436),(5.35,.542),(5.37,.536),(5.38,.412),(5.40,.501),(5.42,.448),(5.43,.563),(5.45,.426),(5.47,.469),(5.48,.543),
 (5.50,.396),(5.52,.509),(5.53,.436),(5.55,.550),(5.57,.416),(5.58,.486),(5.60,.457),(5.62,.521),(5.63,.400),(5.65,.512),
 (5.67,.427),(5.68,.534),(5.70,.527),(5.72,.404),(5.73,.492),(5.75,.440),(5.77,.555),(5.78,.418),(5.80,.461),(5.82,.535),
 (5.83,.388),(5.85,.501),(5.87,.428),(5.88,.542),(5.90,.408),(5.92,.478),(5.93,.449),(5.95,.513),(5.97,.392),(5.98,.504),
 (6.00,.419),(6.02,.526),(6.03,.519),(6.05,.396),(6.07,.485),(6.08,.433),(6.10,.547),(6.12,.411),(6.13,.454),(6.15,.528),
 (6.17,.381),(6.18,.494),(6.20,.422),(6.22,.535),(6.23,.402),(6.25,.472),(6.27,.443),(6.28,.507),(6.30,.386),(6.32,.499),
 (6.33,.414),(6.35,.520),(6.37,.514),(6.38,.391),(6.40,.480),(6.42,.427),(6.43,.542),(6.45,.406),(6.47,.448),(6.48,.523),
 (6.50,.376),(6.53,.489),(6.56,.416),(6.59,.530),(6.62,.397),(6.65,.466),(6.68,.437),(6.71,.501),(6.74,.380),(6.77,.492),
 (6.80,.407),(6.83,.513),(6.86,.507),(6.89,.385),(6.92,.474),(6.95,.422),(6.98,.537)]

# outer layers of the broad dense band (x 4 - 8.5), above and below its centre
normal_core3 = [
 (4.01,.483),(4.03,.616),(4.05,.427),(4.08,.656),(4.10,.455),(4.12,.600),(4.15,.409),(4.17,.633),(4.19,.463),(4.22,.664),
 (4.24,.429),(4.26,.597),(4.29,.438),(4.31,.633),(4.33,.404),(4.36,.610),(4.38,.468),(4.40,.644),(4.43,.413),(4.45,.584),
 (4.47,.443),(4.49,.612),(4.52,.381),(4.54,.654),(4.56,.452),(4.59,.595),(4.61,.418),(4.63,.621),(4.66,.391),(4.68,.580),
 (4.70,.425),(4.73,.606),(4.75,.444),(4.77,.579),(4.80,.390),(4.82,.615),(4.84,.419),(4.87,.560),(4.89,.372),(4.91,.598),
 (4.94,.430),(4.96,.630),(4.98,.397),
 (5.01,.566),(5.03,.407),(5.06,.604),(5.08,.374),(5.10,.582),(5.13,.440),(5.15,.616),(5.17,.386),(5.20,.557),(5.22,.416),
 (5.24,.585),(5.27,.355),(5.29,.628),(5.31,.426),(5.34,.568),(5.36,.393),(5.38,.598),(5.41,.369),(5.43,.558),(5.45,.402),
 (5.48,.587),(5.50,.426),(5.52,.559),(5.55,.369),(5.57,.598),(5.59,.402),(5.62,.544),(5.64,.354),(5.66,.580),(5.69,.413),
 (5.71,.612),(5.73,.380),(5.76,.549),(5.78,.389),(5.80,.586),(5.83,.355),(5.85,.563),(5.87,.421),(5.90,.598),(5.92,.369),
 (5.94,.541),(5.97,.400),(5.99,.569),
 (6.01,.340),(6.04,.612),(6.06,.411),(6.08,.554),(6.11,.379),(6.13,.584),(6.15,.355),(6.18,.544),(6.20,.388),(6.22,.574),
 (6.25,.412),(6.27,.545),(6.29,.355),(6.32,.584),(6.34,.386),(6.36,.529),(6.39,.340),(6.41,.566),(6.43,.399),(6.46,.599),
 (6.48,.366),(6.50,.536),(6.53,.376),(6.55,.573),(6.57,.344),(6.60,.551),(6.62,.410),(6.64,.586),(6.67,.358),(6.69,.529),
 (6.71,.389),(6.74,.557),(6.76,.328),(6.78,.600),(6.81,.398),(6.83,.541),(6.85,.366),(6.88,.572),(6.90,.343),(6.92,.532),
 (6.95,.376),(6.97,.562),(6.99,.401),
 (7.02,.534),(7.04,.345),(7.06,.575),(7.09,.377),(7.11,.520),(7.13,.331),(7.16,.556),(7.18,.389),(7.20,.589),(7.23,.357),
 (7.25,.526),(7.27,.367),(7.30,.563),(7.32,.334),(7.34,.542),(7.37,.401),(7.39,.578),(7.41,.349),(7.44,.520),(7.46,.380),
 (7.48,.549),(7.50,.320),(7.52,.438),(7.53,.593),(7.55,.488),(7.57,.392),(7.59,.413),(7.60,.535),(7.62,.468),(7.64,.360),
 (7.66,.503),(7.67,.566),(7.69,.427),(7.71,.337),(7.73,.477),(7.74,.526),(7.76,.447),(7.78,.370),(7.80,.436),(7.81,.555),
 (7.83,.486),(7.85,.394),(7.87,.411),(7.88,.527),(7.90,.466),(7.92,.338),(7.94,.501),(7.95,.568),(7.97,.426),(7.99,.371),
 (8.01,.475),(8.03,.513),(8.05,.445),(8.07,.324),(8.09,.435),(8.11,.550),(8.13,.484),(8.15,.382),(8.17,.409),(8.19,.582),
 (8.21,.464),(8.23,.350),(8.25,.498),(8.27,.520),(8.29,.423),(8.31,.360),(8.33,.473),(8.35,.557),(8.37,.443),(8.39,.327),
 (8.42,.535),(8.44,.432),(8.46,.394),(8.48,.571)]

x_ticks = [0, 2, 4, 6, 8, 10, 12, 14]
y_ticks = [0.5, 1.0, 1.5]
y_tick_text = ["0.5", "1.0", "1.5"]
x_title = "Average log-expression"
y_title = "sqrt(sigma)"
legend_labels = ["Normal", "Outlier"]
legend_colors = ["black", "#FF0000"]

# ---------------- build figure ----------------
def split(pts):
    return [p[0] for p in pts], [p[1] for p in pts]

sparse_x, sparse_y = split(normal_a + normal_b + normal_p + normal_q + normal_r + normal_s + normal_t + normal_u)
mid_x, mid_y = split(normal_c + normal_d + normal_e + normal_f + normal_g + normal_h + normal_i + normal_j
                     + normal_k + normal_l + normal_m + normal_n + normal_o + normal_core3)
core_x, core_y = split(normal_core + normal_core2)
ox, oy = split(outlier_pts)

FONT = "Liberation Sans, Arial, Helvetica, sans-serif"

fig = go.Figure()
for xs, ys, sz in [(core_x, core_y, 4.8), (mid_x, mid_y, 4.2), (sparse_x, sparse_y, 3.7)]:
    fig.add_trace(go.Scatter(x=xs, y=ys, mode="markers", showlegend=False, hoverinfo="skip",
                             marker=dict(color="black", size=sz, symbol="square", line=dict(width=0))))
fig.add_trace(go.Scatter(x=ox, y=oy, mode="markers", showlegend=False, hoverinfo="skip",
                         marker=dict(color="#FF0000", size=3.7, symbol="square", line=dict(width=0))))
fig.add_trace(go.Scatter(x=trend_x, y=trend_y, mode="lines", showlegend=False, hoverinfo="skip",
                         line=dict(color="#0000FF", width=1.5, shape="spline")))

axis_common = dict(showgrid=False, zeroline=False, showline=True, linecolor="black", linewidth=1.3,
                   mirror=True, ticks="outside", ticklen=15, tickwidth=1.3, tickcolor="black",
                   tickfont=dict(family=FONT, size=24, color="black"))

# plot area in page pixels: left 123, right 1136, top 123, bottom 746.7 (page body adds 8px offset)
PW, PH = 1013.0, 623.7
def px_x(p):
    return (p - 123.0) / PW
def px_y(p):
    return (746.7 - p) / PH

# manual legend (box, symbols and labels)
shapes = [dict(type="rect", xref="paper", yref="paper", x0=px_x(1000), x1=1.0, y0=px_y(212.7), y1=1.0,
               line=dict(color="black", width=1.3), fillcolor="white", layer="above")]
annotations = []
for i, (lab, col) in enumerate(zip(legend_labels, legend_colors)):
    cy = 152.5 + 30.5 * i
    shapes.append(dict(type="circle", xref="paper", yref="paper",
                       x0=px_x(1022 - 4.5), x1=px_x(1022 + 4.5), y0=px_y(cy + 4.5), y1=px_y(cy - 4.5),
                       fillcolor=col, line=dict(color=col, width=0), layer="above"))
    annotations.append(dict(text=lab, xref="paper", yref="paper", x=px_x(1044), y=px_y(cy),
                            xanchor="left", yanchor="middle", showarrow=False,
                            font=dict(family=FONT, size=24, color="black")))

annotations += [
    dict(text=x_title, xref="paper", yref="paper", x=0.5, y=px_y(853), xanchor="center", yanchor="middle",
         showarrow=False, font=dict(family=FONT, size=24, color="black")),
    dict(text=y_title, xref="paper", yref="paper", x=px_x(23), y=0.5, xanchor="center", yanchor="middle",
         textangle=-90, showarrow=False, font=dict(family=FONT, size=24, color="black")),
]

fig.update_layout(
    width=1200, height=900, autosize=False,
    paper_bgcolor="white", plot_bgcolor="white",
    margin=dict(l=115, r=72, t=115, b=161, pad=0),
    font=dict(family=FONT, size=24, color="black"),
    showlegend=False,
    xaxis=dict(range=[-0.065, 14.51], tickvals=x_ticks, ticktext=[str(v) for v in x_ticks],
               ticklabelstandoff=10, **axis_common),
    yaxis=dict(range=[0.1787, 1.852], tickvals=y_ticks, ticktext=y_tick_text,
               tickangle=-90, ticklabelstandoff=12, **axis_common),
    shapes=shapes,
    annotations=annotations,
)

fig.write_html("out.html")
